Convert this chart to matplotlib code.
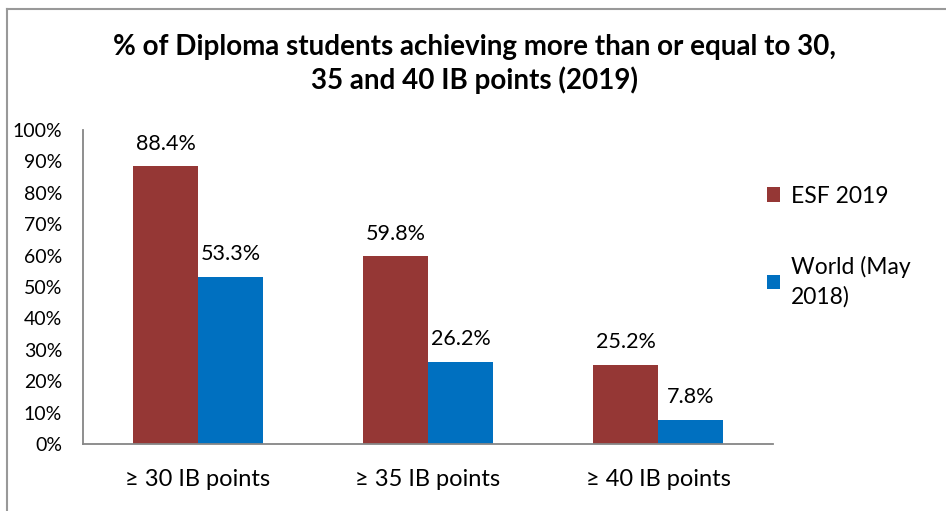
import numpy as np
import matplotlib
matplotlib.use("Agg")
import matplotlib.pyplot as plt
from matplotlib.lines import Line2D
from matplotlib.patches import Patch

plt.rcParams["font.family"] = ["Lato", "DejaVu Sans"]

categories = ["\u2265 30 IB points", "\u2265 35 IB points", "\u2265 40 IB points"]
esf_2019 = [88.4, 59.8, 25.2]
world_2018 = [53.3, 26.2, 7.8]
series_names = ["ESF 2019", "World (May\n2018)"]
y_ticks = [0, 10, 20, 30, 40, 50, 60, 70, 80, 90, 100]

red = "#953735"
blue = "#0070C0"
axis_grey = "#868686"

fig = plt.figure(figsize=(9.46, 5.11), dpi=100)
W, H = 946, 511
ax = fig.add_axes([83 / W, 1 - 444 / H, 690 / W, 314 / H])

x = np.arange(len(categories))
bw = 65 / 230
b1 = ax.bar(x - bw / 2, esf_2019, bw, color=red)
b2 = ax.bar(x + bw / 2, world_2018, bw, color=blue)

for bars, vals in ((b1, esf_2019), (b2, world_2018)):
    for b, v in zip(bars, vals):
        ax.annotate(f"{v:.1f}%", (b.get_x() + b.get_width() / 2, v),
                    xytext=(0, 9), textcoords="offset points",
                    ha="center", va="bottom", fontsize=15.5, color="black")

ax.set_xlim(-0.5, 2.5)
ax.set_ylim(0, 100)
ax.set_yticks(y_ticks)
ax.set_yticklabels([f"{t}%" for t in y_ticks], fontsize=14)
ax.set_xticks(x)
ax.set_xticklabels(categories, fontsize=17)
ax.tick_params(axis="both", length=0)
ax.tick_params(axis="y", pad=15)
ax.tick_params(axis="x", pad=18)
for s in ("top", "right"):
    ax.spines[s].set_visible(False)
for s in ("left", "bottom"):
    ax.spines[s].set_color(axis_grey)
    ax.spines[s].set_linewidth(1.3)

fig.text(0.502, 1 - 47 / H, "% of Diploma students achieving more than or equal to 30,",
         ha="center", va="center", fontsize=20, fontweight="bold")
fig.text(0.502, 1 - 80 / H, "35 and 40 IB points (2019)",
         ha="center", va="center", fontsize=20, fontweight="bold")

handles = [Patch(facecolor=red), Patch(facecolor=blue)]
leg = fig.legend(handles, series_names, loc="upper left",
                 bbox_to_anchor=(746 / W, 1 - 165 / H), frameon=False,
                 fontsize=16.5, handlelength=0.6, handleheight=0.6,
                 handletextpad=0.45, labelspacing=2.15)
for t in leg.get_texts():
    t.set_linespacing(1.45)

# outer chart border (top and left edges visible)
fig.add_artist(Line2D([7 / W, 1], [1 - 9 / H, 1 - 9 / H], color="#999999", lw=1.5))
fig.add_artist(Line2D([7 / W, 7 / W], [0, 1 - 9 / H], color="#999999", lw=1.5))

fig.savefig("out.png", dpi=100)
